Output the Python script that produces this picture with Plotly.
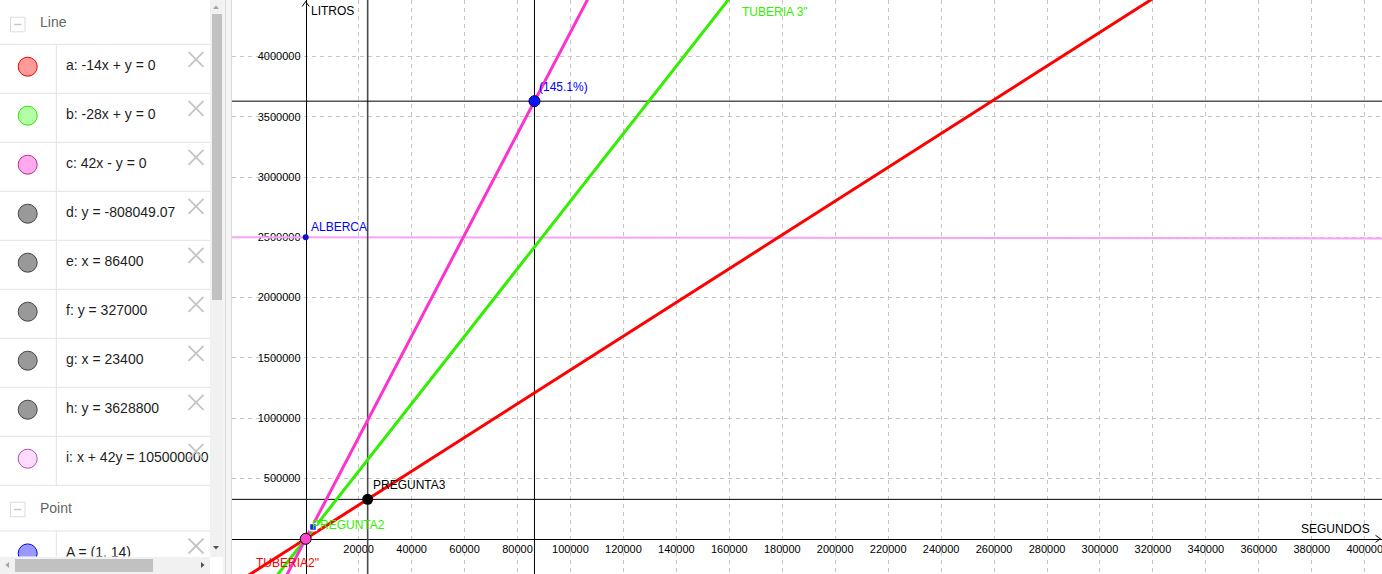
import plotly.graph_objects as go
import numpy as np

W, H = 1382, 574

# ---------------- data ----------------
slopes = [14, 28, 42]                      # a: y=14x, b: y=28x, c: y=42x
slope_colors = ["#ff0000", "#33ee00", "#ff33cc"]
vertical_x = [86400, 23400]                # e, g
vertical_colors = ["#000000", "#4a4a4a"]
vertical_widths = [1, 1.6]
horizontal_y = [3628800, 327000]           # h, f
line_i = (1, 42, 105000000)                # x + 42y = 105000000
x_ticks = list(range(20000, 400001, 20000))
y_ticks = list(range(500000, 4000001, 500000))
x_range = [-27840, 406520]
y_range = [-291900, 4467700]
alberca = (0, 2500000)
point_h = (86400, 3628800)
pregunta3 = (23400, 327600)
origin = (0, 0)
point_a = (2760, 97800)
tuberia3_pos = (164200, 4368000)

algebra_lines = ["a: -14x + y = 0", "b: -28x + y = 0", "c: 42x - y = 0",
                 "d: y = -808049.07", "e: x = 86400", "f: y = 327000",
                 "g: x = 23400", "h: y = 3628800", "i: x + 42y = 105000000"]
algebra_fill = ["#ff9a9a", "#b2ffa6", "#ffaaee", "#999999", "#999999",
                "#999999", "#999999", "#999999", "#ffdcff"]
algebra_edge = ["#ee0000", "#33dd00", "#b0308f", "#444444", "#444444",
                "#444444", "#444444", "#444444", "#b050b0"]
point_items = ["A = (1, 14)"]

FONT = "Liberation Sans"

fig = go.Figure()

# ---------------- graphics view ----------------
xs = np.array(x_range, dtype=float)
a_i, b_i, c_i = line_i
fig.add_trace(go.Scatter(x=xs, y=(c_i - a_i * xs) / b_i, mode="lines",
                         line=dict(color="#f7a3f7", width=2), hoverinfo="skip"))
for v, col, w in zip(vertical_x, vertical_colors, vertical_widths):
    fig.add_trace(go.Scatter(x=[v, v], y=y_range, mode="lines",
                             line=dict(color=col, width=w), hoverinfo="skip"))
for v in horizontal_y:
    fig.add_trace(go.Scatter(x=x_range, y=[v, v], mode="lines",
                             line=dict(color="#000000", width=1), hoverinfo="skip"))
for s, col in zip(slopes, slope_colors):
    fig.add_trace(go.Scatter(x=xs, y=s * xs, mode="lines",
                             line=dict(color=col, width=3), hoverinfo="skip"))

# points
fig.add_trace(go.Scatter(x=[alberca[0]], y=[alberca[1]], mode="markers",
                         marker=dict(size=6, color="#1010cc", line=dict(width=0)), hoverinfo="skip"))
fig.add_trace(go.Scatter(x=[point_h[0]], y=[point_h[1]], mode="markers",
                         marker=dict(size=11, color="#0a14ff", line=dict(width=1, color="#000044")), hoverinfo="skip"))
fig.add_trace(go.Scatter(x=[pregunta3[0]], y=[pregunta3[1]], mode="markers",
                         marker=dict(size=11, color="#000000"), hoverinfo="skip"))
fig.add_trace(go.Scatter(x=[origin[0]], y=[origin[1]], mode="markers",
                         marker=dict(size=11, color="#ff44cc", line=dict(width=1, color="#000000")), hoverinfo="skip"))
fig.add_trace(go.Scatter(x=[point_a[0]], y=[point_a[1]], mode="markers",
                         marker=dict(size=7, symbol="square", color="#1a1aff", line=dict(width=1.5, color="#ffffff")), hoverinfo="skip"))

annotations = [
    dict(x=point_h[0], y=point_h[1], text="(145.1%)", xanchor="left", yanchor="bottom",
         xshift=3, yshift=5, font=dict(color="#0000ff", size=12)),
    dict(x=pregunta3[0], y=pregunta3[1], text="PREGUNTA3", xanchor="left", yanchor="bottom",
         xshift=3, yshift=5, font=dict(color="#000000", size=12)),
    dict(x=alberca[0], y=alberca[1], text="ALBERCA", xanchor="left", yanchor="bottom",
         xshift=3, yshift=1, font=dict(color="#0000ff", size=12)),
    dict(x=origin[0], y=origin[1], text="PREGUNTA2", xanchor="left", yanchor="middle",
         xshift=4, yshift=14, font=dict(color="#33ee00", size=12)),
    dict(x=origin[0], y=origin[1], text="TUBERIA2\"", xanchor="left", yanchor="middle",
         xshift=-52, yshift=-24, font=dict(color="#ff0000", size=12)),
    dict(x=tuberia3_pos[0], y=tuberia3_pos[1], text="TUBERIA 3\"", xanchor="left", yanchor="middle",
         font=dict(color="#33ee00", size=12)),
    dict(x=0, y=1, xref="x", yref="paper", text="LITROS", xanchor="left", yanchor="top",
         xshift=3, yshift=-2, font=dict(color="#000000", size=12)),
    dict(x=x_range[1], y=0, text="SEGUNDOS", xanchor="right", yanchor="bottom",
         xshift=-10, yshift=1, font=dict(color="#000000", size=12)),
]
for an in annotations:
    an.setdefault("xref", "x")
    an.setdefault("yref", "y")
    an["showarrow"] = False
    an["font"]["family"] = FONT


def P(x, y):
    return x / W, 1 - y / H


def path(pts):
    s = ""
    for i, (x, y) in enumerate(pts):
        px, py = P(x, y)
        s += ("M" if i == 0 else "L") + f"{px:.6f},{py:.6f} "
    return s


shapes = []
# axis arrows
shapes.append(dict(type="path", xref="paper", yref="paper",
                   path=path([(302.2, 6.5), (305.7, 1.5), (309.2, 6.5)]),
                   line=dict(color="black", width=1)))
shapes.append(dict(type="path", xref="paper", yref="paper",
                   path=path([(1375.5, 535.3), (1380.5, 538.8), (1375.5, 542.3)]),
                   line=dict(color="black", width=1)))

# ---------------- algebra panel ----------------
row_h = 49.0
first_sep = 44.3
for k in range(len(algebra_lines) + 1):
    yk = first_sep + row_h * k
    shapes.append(dict(type="line", xref="x2", yref="y2", x0=0, x1=210, y0=yk, y1=yk,
                       line=dict(color="#e3e3e3", width=1)))
sep_point = 531.0
shapes.append(dict(type="line", xref="x2", yref="y2", x0=0, x1=210, y0=sep_point, y1=sep_point,
                   line=dict(color="#e3e3e3", width=1)))
shapes.append(dict(type="line", xref="x2", yref="y2", x0=56.3, x1=56.3,
                   y0=first_sep, y1=first_sep + row_h * len(algebra_lines),
                   line=dict(color="#e3e3e3", width=1)))
shapes.append(dict(type="line", xref="x2", yref="y2", x0=56.3, x1=56.3, y0=sep_point, y1=560,
                   line=dict(color="#e3e3e3", width=1)))

row_centers = [first_sep + row_h * k + 22.4 for k in range(len(algebra_lines))]
for yc, fc, ec in zip(row_centers, algebra_fill, algebra_edge):
    shapes.append(dict(type="circle", xref="x2", yref="y2", x0=27.7 - 9.5, x1=27.7 + 9.5,
                       y0=yc - 9.5, y1=yc + 9.5, fillcolor=fc, line=dict(color=ec, width=1)))
    ty = yc - 22.4 + 15
    for (x0, y0, x1, y1) in [(188.5, ty - 7.5, 203.5, ty + 7.5), (188.5, ty + 7.5, 203.5, ty - 7.5)]:
        shapes.append(dict(type="line", xref="x2", yref="y2", x0=x0, y0=y0, x1=x1, y1=y1,
                           line=dict(color="#c4c4c4", width=1.8)))
# point row
pt_center = sep_point + 22.4
shapes.append(dict(type="circle", xref="x2", yref="y2", x0=27.7 - 9.5, x1=27.7 + 9.5,
                   y0=pt_center - 9.5, y1=pt_center + 9.5, fillcolor="#9999ff",
                   line=dict(color="#0000ff", width=1)))
ty = sep_point + 15
for (x0, y0, x1, y1) in [(188.5, ty - 7.5, 203.5, ty + 7.5), (188.5, ty + 7.5, 203.5, ty - 7.5)]:
    shapes.append(dict(type="line", xref="x2", yref="y2", x0=x0, y0=y0, x1=x1, y1=y1,
                       line=dict(color="#c4c4c4", width=1.8)))

# collapse icons
for yc in [24.5, 509.5]:
    shapes.append(dict(type="rect", xref="x2", yref="y2", x0=10.5, x1=25, y0=yc - 7.3, y1=yc + 7.3,
                       line=dict(color="#dcdcdc", width=1), fillcolor="white"))
    shapes.append(dict(type="line", xref="x2", yref="y2", x0=14, x1=21.5, y0=yc, y1=yc,
                       line=dict(color="#c8c8c8", width=1.5)))

# scrollbars (paper coordinates)
def rect(x0, y0, x1, y1, fill, line=None):
    a0, b0 = P(x0, y0)
    a1, b1 = P(x1, y1)
    return dict(type="rect", xref="paper", yref="paper", x0=a0, y0=b1, x1=a1, y1=b0,
                fillcolor=fill, line=dict(width=0) if line is None else line, layer="above")

shapes.append(rect(210, 0, 223, 557, "#f1f1f1"))
shapes.append(rect(212, 14, 222, 300, "#c1c1c1"))
shapes.append(rect(0, 557, 210, 574, "#f1f1f1"))
shapes.append(rect(15, 559, 153, 572, "#c1c1c1"))
shapes.append(rect(210, 557, 223, 574, "#ffffff"))
shapes.append(rect(223, 0, 232, 574, "#f4f4f4"))
for xl in [225.5, 231.5]:
    a0, _ = P(xl, 0)
    shapes.append(dict(type="line", xref="paper", yref="paper", x0=a0, x1=a0, y0=0, y1=1,
                       line=dict(color="#d8d8d8", width=1), layer="above"))
# scroll arrows
def tri(pts, col):
    return dict(type="path", xref="paper", yref="paper", path=path(pts) + "Z",
                fillcolor=col, line=dict(width=0), layer="above")

shapes.append(tri([(213, 9), (219, 9), (216, 5.5)], "#a3a3a3"))
shapes.append(tri([(213, 546), (219, 546), (216, 549.5)], "#505050"))
shapes.append(tri([(9, 562), (9, 568), (5.5, 565)], "#a3a3a3"))
shapes.append(tri([(201, 562), (201, 568), (204.5, 565)], "#505050"))

# panel texts (clipped to panel)
fig.add_trace(go.Scatter(x=[66] * len(algebra_lines), y=[c - 0.5 for c in row_centers],
                         text=algebra_lines, mode="text", textposition="middle right",
                         textfont=dict(family=FONT, size=14, color="#1e1e1e"),
                         xaxis="x2", yaxis="y2", cliponaxis=True, hoverinfo="skip"))
fig.add_trace(go.Scatter(x=[66], y=[pt_center], text=point_items, mode="text",
                         textposition="middle right",
                         textfont=dict(family=FONT, size=14, color="#1e1e1e"),
                         xaxis="x2", yaxis="y2", cliponaxis=True, hoverinfo="skip"))
fig.add_trace(go.Scatter(x=[40, 40], y=[23.5, 509], text=["Line", "Point"], mode="text",
                         textposition="middle right",
                         textfont=dict(family=FONT, size=14, color="#666666"),
                         xaxis="x2", yaxis="y2", cliponaxis=True, hoverinfo="skip"))

tickfont = dict(family=FONT, size=11, color="black")
fig.update_layout(
    width=W, height=H, margin=dict(l=0, r=0, t=0, b=0),
    paper_bgcolor="white", plot_bgcolor="white", showlegend=False,
    font=dict(family=FONT),
    xaxis=dict(domain=[232 / W, 1], range=x_range, anchor="free", position=(H - 538.8) / H,
               showline=True, linecolor="black", linewidth=1, layer="below traces",
               tickvals=x_ticks, ticktext=[str(v) for v in x_ticks], ticks="",
               ticklabeloverflow="allow",
               showgrid=True, gridcolor="#c4c4c4", griddash="4px,4px", gridwidth=1,
               zeroline=False, tickfont=tickfont, fixedrange=True),
    yaxis=dict(domain=[0, 1], range=y_range, anchor="free", position=305.7 / W,
               showline=True, linecolor="black", linewidth=1, layer="below traces",
               tickvals=y_ticks, ticktext=[str(v) for v in y_ticks], ticks="",
               ticklabeloverflow="allow", ticklabelstandoff=3,
               showgrid=True, gridcolor="#c4c4c4", griddash="4px,4px", gridwidth=1,
               zeroline=False, tickfont=tickfont, fixedrange=True),
    xaxis2=dict(domain=[0, 210 / W], range=[0, 210], visible=False, anchor="y2", fixedrange=True),
    yaxis2=dict(domain=[(H - 556.5) / H, 1], range=[556.5, 0], visible=False, anchor="x2",
                fixedrange=True),
    annotations=annotations,
    shapes=shapes,
)

fig.write_html("out.html", config={"displayModeBar": False},
               post_script="document.body.style.margin='0';document.body.style.overflow='hidden';")
